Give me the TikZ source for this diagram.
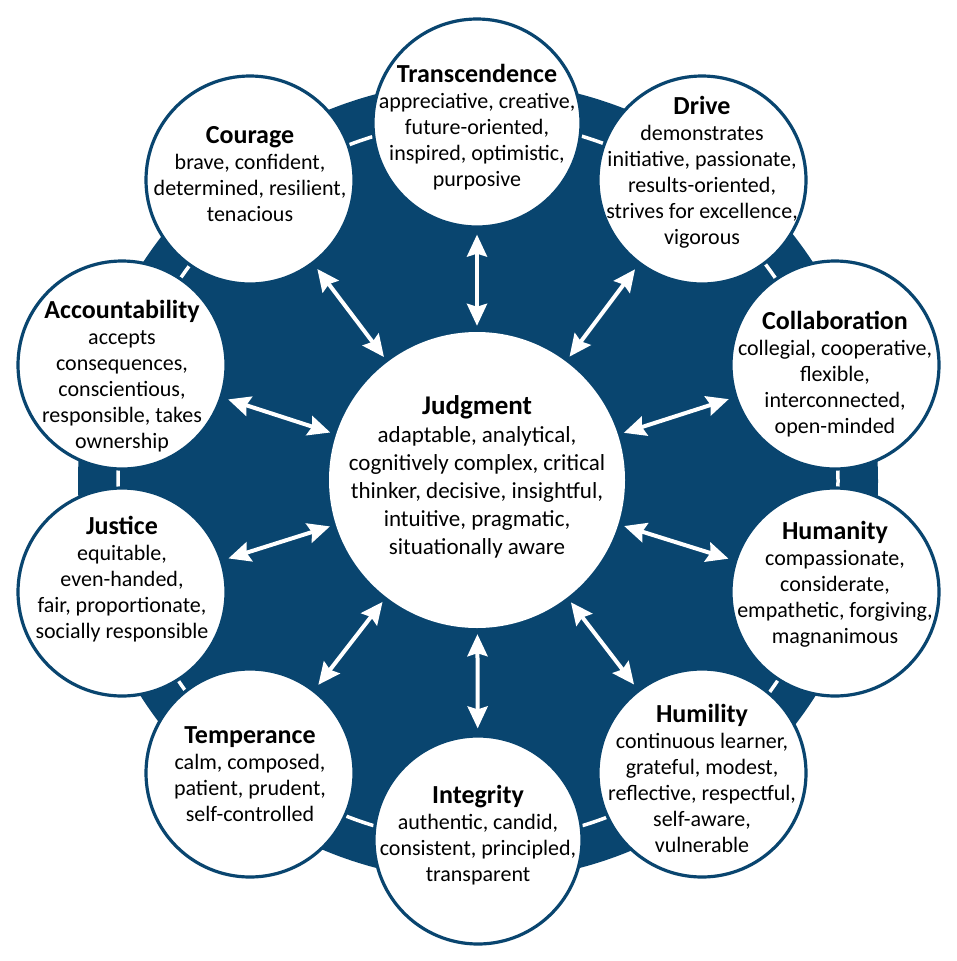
\documentclass[tikz,border=0pt]{standalone}
\usepackage{fontspec}
\setmainfont{Carlito}
\usetikzlibrary{arrows.meta}
\definecolor{navy}{HTML}{09456F}
\begin{document}
\begin{tikzpicture}[x=1pt,y=-1pt,
  ring/.style={circle,draw=navy,line width=3.2pt,fill=white,minimum size=208pt,inner sep=0pt},
  hub/.style={circle,fill=white,minimum size=296pt,inner sep=0pt},
  txt/.style={align=center,font=\fontsize{22}{26}\selectfont,text=black,inner sep=0pt},
  hubtxt/.style={align=center,font=\fontsize{23}{28}\selectfont,text=black,inner sep=0pt},
  biarrow/.style={draw=white,line width=4pt,
    {Stealth[length=22pt,width=20pt,inset=3pt,fill=white]}-{Stealth[length=22pt,width=20pt,inset=3pt,fill=white]},
    shorten <=6pt,shorten >=6pt}
]
\newcommand{\ttlA}[1]{{\bfseries\fontsize{26}{26}\selectfont #1}}
\newcommand{\ttlB}[1]{{\bfseries\fontsize{27}{28}\selectfont #1}}
\useasboundingbox (0,0) rectangle (957,961);
\fill[white] (0,0) rectangle (957,961);
\fill[navy] (478,481) circle[radius=400pt];
\draw[white,line width=3.5pt] (478,481) circle[radius=360pt];

\node[hub] (judg) at (477,480) {};
\node[ring] (tran) at (477,123) {};
\node[ring] (driv) at (702,180) {};
\node[ring] (coll) at (835,365) {};
\node[ring] (huma) at (835,592) {};
\node[ring] (humi) at (702,773) {};
\node[ring] (inte) at (478,840) {};
\node[ring] (temp) at (250,773) {};
\node[ring] (just) at (122,592) {};
\node[ring] (acco) at (122,365) {};
\node[ring] (cour) at (250,180) {};

\node[hubtxt] (judg-t) at (477,477) {\ttlB{Judgment}\\adaptable, analytical,\\cognitively complex, critical\\thinker, decisive, insightful,\\intuitive, pragmatic,\\situationally aware};
\node[txt] (tran-t) at (477,127) {\ttlA{Transcendence}\\appreciative, creative,\\future-oriented,\\inspired, optimistic,\\purposive};
\node[txt] (driv-t) at (702,172) {\ttlA{Drive}\\demonstrates\\initiative, passionate,\\results-oriented,\\strives for excellence,\\vigorous};
\node[txt] (coll-t) at (835,374) {\ttlA{Collaboration}\\collegial, cooperative,\\flexible,\\interconnected,\\open-minded};
\node[txt] (huma-t) at (835,584) {\ttlA{Humanity}\\compassionate,\\considerate,\\empathetic, forgiving,\\magnanimous};
\node[txt] (humi-t) at (702,778) {\ttlA{Humility}\\continuous learner,\\grateful, modest,\\reflective, respectful,\\self-aware,\\vulnerable};
\node[txt] (inte-t) at (478,835) {\ttlA{Integrity}\\authentic, candid,\\consistent, principled,\\transparent};
\node[txt] (temp-t) at (250,774) {\ttlA{Temperance}\\calm, composed,\\patient, prudent,\\self-controlled};
\node[txt] (just-t) at (122,579) {\ttlA{Justice}\\equitable,\\even-handed,\\fair, proportionate,\\socially responsible};
\node[txt] (acco-t) at (122,376) {\ttlA{Accountability}\\accepts\\consequences,\\conscientious,\\responsible, takes\\ownership};
\node[txt] (cour-t) at (250,174) {\ttlA{Courage}\\brave, confident,\\determined, resilient,\\tenacious};

\foreach \n in {tran,driv,coll,huma,humi,inte,temp,just,acco,cour}
  \draw[biarrow] (\n) -- (judg);
\end{tikzpicture}
\end{document}
